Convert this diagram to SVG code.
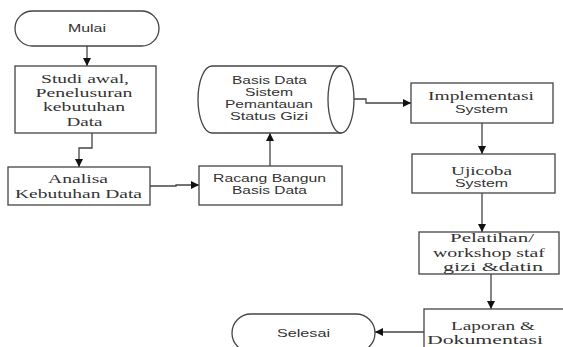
<svg xmlns="http://www.w3.org/2000/svg" width="563" height="347" viewBox="0 0 563 347">
<defs>
<marker id="ah" viewBox="0 0 10 10" refX="10" refY="5" markerWidth="8" markerHeight="8" markerUnits="userSpaceOnUse" orient="auto">
<path d="M0,0 L10,5 L0,10 z" fill="#111"/>
</marker>
<style>
.shape{fill:#fff;stroke:#444;stroke-width:1.3}
.conn{fill:none;stroke:#444;stroke-width:1.3;marker-end:url(#ah)}
.serif{font-family:"Liberation Serif","Times New Roman",serif;font-size:13.5px;fill:#333;text-anchor:middle}
.sans{font-family:"Liberation Sans",Arial,sans-serif;font-size:10.5px;fill:#333;text-anchor:middle}
</style>
</defs>
<rect width="563" height="347" fill="#fff"/>
<g id="connectors">
<path class="conn" d="M87,46 L87,66"/>
<path class="conn" d="M92,133 L92,148 L79,148 L79,167"/>
<path class="conn" d="M150,186 L176,186 L176,185 L199,185"/>
<path class="conn" d="M270,166 L270,133"/>
<path class="conn" d="M354,99 L366,99 L366,103 L411,103"/>
<path class="conn" d="M482,123 L482,154"/>
<path class="conn" d="M482,193 L482,232"/>
<path class="conn" d="M491,274 L491,309"/>
<path class="conn" d="M424,332 L375,332"/>
</g>
<g id="mulai">
<rect class="shape" x="15" y="11" width="144" height="35" rx="17.5" ry="17.5"/>
<text class="sans" x="87" y="32" textLength="38" lengthAdjust="spacingAndGlyphs">Mulai</text>
</g>
<g id="studi">
<rect class="shape" x="15" y="66" width="141" height="67"/>
<text class="serif" x="85" y="83" textLength="88" lengthAdjust="spacingAndGlyphs">Studi awal,</text>
<text class="serif" x="84" y="97" textLength="97" lengthAdjust="spacingAndGlyphs">Penelusuran</text>
<text class="serif" x="84" y="111" textLength="82" lengthAdjust="spacingAndGlyphs">kebutuhan</text>
<text class="serif" x="84.5" y="126" textLength="36" lengthAdjust="spacingAndGlyphs">Data</text>
</g>
<g id="analisa">
<rect class="shape" x="8" y="167" width="142" height="38"/>
<text class="serif" x="78" y="183" textLength="60" lengthAdjust="spacingAndGlyphs">Analisa</text>
<text class="serif" x="78.5" y="198" textLength="127" lengthAdjust="spacingAndGlyphs">Kebutuhan Data</text>
</g>
<g id="racang">
<rect class="shape" x="199" y="166" width="143" height="39"/>
<text class="sans" x="269.5" y="182" textLength="113" lengthAdjust="spacingAndGlyphs">Racang Bangun</text>
<text class="sans" x="269.5" y="194" textLength="75" lengthAdjust="spacingAndGlyphs">Basis Data</text>
</g>
<g id="basisdata">
<path class="shape" d="M212,66 L341,66 L341,133 L212,133 A14,33.5 0 0 1 212,66 Z"/>
<ellipse class="shape" cx="341" cy="99.5" rx="13" ry="33.5"/>
<text class="sans" x="269.5" y="84" textLength="75" lengthAdjust="spacingAndGlyphs">Basis Data</text>
<text class="sans" x="269" y="96" textLength="48" lengthAdjust="spacingAndGlyphs">Sistem</text>
<text class="sans" x="269" y="108" textLength="88" lengthAdjust="spacingAndGlyphs">Pemantauan</text>
<text class="sans" x="269" y="120" textLength="78" lengthAdjust="spacingAndGlyphs">Status Gizi</text>
</g>
<g id="implementasi">
<rect class="shape" x="411" y="83" width="142" height="40"/>
<text class="serif" x="481" y="100" textLength="106" lengthAdjust="spacingAndGlyphs">Implementasi</text>
<text class="sans" x="481.5" y="113" textLength="53" lengthAdjust="spacingAndGlyphs">System</text>
</g>
<g id="ujicoba">
<rect class="shape" x="412" y="154" width="143" height="39"/>
<text class="serif" x="481.5" y="175" textLength="61" lengthAdjust="spacingAndGlyphs">Ujicoba</text>
<text class="sans" x="481.5" y="187" textLength="53" lengthAdjust="spacingAndGlyphs">System</text>
</g>
<g id="pelatihan">
<rect class="shape" x="419" y="232" width="140" height="42"/>
<text class="serif" x="492" y="242" textLength="84" lengthAdjust="spacingAndGlyphs">Pelatihan/</text>
<text class="serif" x="489" y="257" textLength="112" lengthAdjust="spacingAndGlyphs">workshop staf</text>
<text class="serif" x="493" y="271" textLength="100" lengthAdjust="spacingAndGlyphs">gizi &amp;datin</text>
</g>
<g id="laporan">
<rect class="shape" x="424" y="309" width="145" height="50"/>
<text class="serif" x="493" y="330" textLength="84" lengthAdjust="spacingAndGlyphs">Laporan &amp;</text>
<text class="serif" x="485" y="344" textLength="116" lengthAdjust="spacingAndGlyphs">Dokumentasi</text>
</g>
<g id="selesai">
<rect class="shape" x="232" y="314" width="143" height="38" rx="19" ry="19"/>
<text class="sans" x="303.5" y="337" textLength="53" lengthAdjust="spacingAndGlyphs">Selesai</text>
</g>
</svg>
